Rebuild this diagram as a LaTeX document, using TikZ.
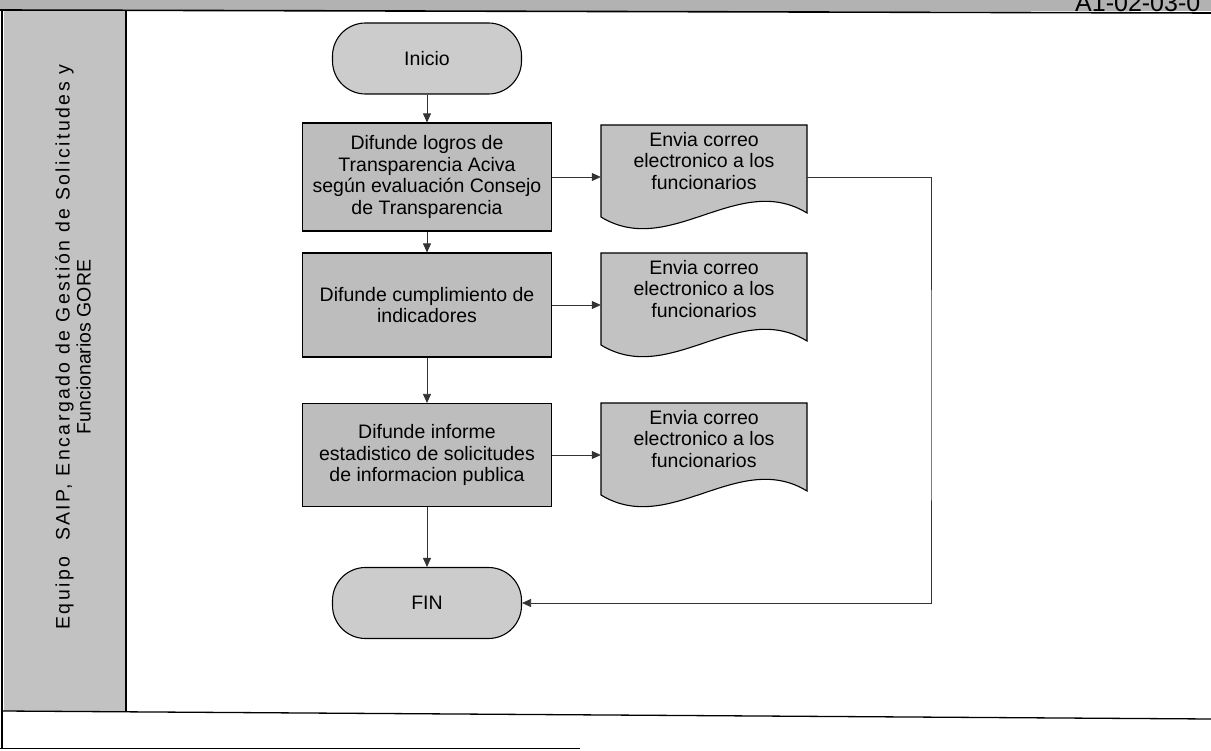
\documentclass[tikz,border=0pt]{standalone}
\usepackage{fontspec}
\setmainfont{Liberation Sans}
\usetikzlibrary{arrows.meta,calc}
\definecolor{boxgray}{gray}{0.74}
\definecolor{termgray}{gray}{0.80}
\definecolor{docgray}{gray}{0.76}
\definecolor{lanegray}{gray}{0.76}
\definecolor{hdrgray}{gray}{0.70}
\begin{document}
\begin{tikzpicture}[x=1pt,y=-1pt,
  font=\fontsize{19.5}{21.5}\selectfont,
  procbox/.style={draw=black,line width=1.1pt,fill=boxgray,minimum width=249pt,
    align=center,inner sep=2pt},
  termbox/.style={draw=black,line width=1.1pt,fill=termgray,minimum width=189pt,
    minimum height=71pt,rounded corners=33pt},
  docbox/.style={minimum width=206pt,minimum height=104pt,align=center,
    text depth=33pt,inner sep=0pt},
  docline/.style={draw=black,line width=1.1pt,fill=docgray},
  flow/.style={draw=black!80,line width=0.8pt,-{Triangle[length=9pt,width=8pt]}},
  frameline/.style={draw=black,line width=1.3pt},
]
\useasboundingbox (0,0) rectangle (1211,751);
\clip (0,0) rectangle (1211,751);

% header band and document code
\fill[hdrgray] (0,0) rectangle (1211,11);
\draw[frameline,line width=1.6pt] (0,10) -- (1211,13);
\node[anchor=base west,inner sep=0pt,font=\fontsize{25}{25}\selectfont] (code) at (1075,12) {A1-02-03-0};

% swimlane frame
\fill[lanegray] (4,11) rectangle (126,711);
\draw[frameline] (126,11) -- (126,711);
\draw[frameline] (2,9) -- (2,748);
\draw[frameline] (2,711) -- (1211,719);
\draw[frameline,line width=1pt] (0,748) -- (580,748);
\node[rotate=90,align=center,inner sep=0pt,font=\fontsize{19.5}{21}\selectfont] (lane) at (73,347)
  {{\addfontfeature{LetterSpace=12.5}Equipo\ \ SAIP, Encargado de Gestión de Solicitudes y}\\Funcionarios GORE};

% main column
\node[termbox] (ini) at (427,58.5) {Inicio};
\node[procbox,minimum height=108pt] (b1) at (427,177)
  {Difunde logros de\\Transparencia Aciva\\según evaluación Consejo\\de Transparencia};
\node[procbox,minimum height=104pt] (b2) at (427,305)
  {Difunde cumplimiento de\\indicadores};
\node[procbox,minimum height=103pt] (b3) at (427,455)
  {Difunde informe\\estadistico de solicitudes\\de informacion publica};
\node[termbox] (fin) at (427,603) {FIN};

% document outlines: flat top, wavy bottom edge
\foreach \yy in {177,305,455}{
  \path[docline] (601,\yy-52) -- (807,\yy-52) -- (807,\yy+36)
    .. controls (738.3,\yy-6) and (669.7,\yy+82) .. (601,\yy+40) -- cycle;
}
\node[docbox] (d1) at (704,177) {Envia correo\\electronico a los\\funcionarios};
\node[docbox] (d2) at (704,305) {Envia correo\\electronico a los\\funcionarios};
\node[docbox] (d3) at (704,455) {Envia correo\\electronico a los\\funcionarios};

% connectors
\draw[flow] (ini) -- (b1);
\draw[flow] (b1) -- (b2);
\draw[flow] (b2) -- (b3);
\draw[flow] (b3) -- (fin);
\draw[flow] (b1) -- (d1);
\draw[flow] (b2) -- (d2);
\draw[flow] (b3) -- (d3);
\coordinate (loop) at (931,400);
\draw[flow] (d1.east) -| (loop) |- (fin.east);
\end{tikzpicture}
\end{document}
